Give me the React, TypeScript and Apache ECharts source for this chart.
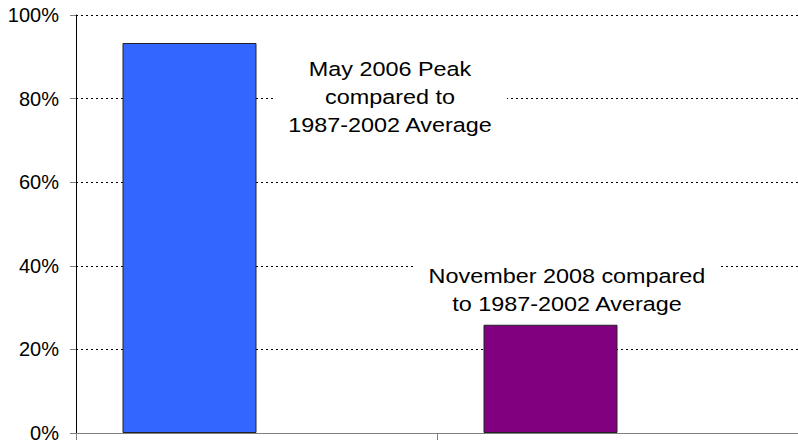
import React, { useEffect, useRef } from "react";
import * as echarts from "echarts";

const categories = ["May 2006 Peak", "November 2008"];
const values = [93.3, 25.9];
const barColors = ["#3366FF", "#800080"];
const annotationPeak = "May 2006 Peak\ncompared to\n1987-2002 Average";
const annotationNov = "November 2008 compared\nto 1987-2002 Average";

export default function App() {
  const ref = useRef<HTMLDivElement>(null);
  useEffect(() => {
    if (!ref.current) return;
    const chart = echarts.init(ref.current, null, { renderer: "svg" });
    const font = "'Liberation Sans', Arial, sans-serif";
    const textStyle = (t: string, x: number, y: number) => ({
      type: "text",
      x,
      y,
      scaleX: 1.2,
      z: 100,
      style: {
        text: t,
        fontFamily: font,
        fontSize: 19.5,
        lineHeight: 28,
        fill: "#000",
        align: "center",
        verticalAlign: "middle",
        backgroundColor: "#fff",
        padding: [2, 12, 2, 12],
      },
    });
    chart.setOption({
      animation: false,
      backgroundColor: "#fff",
      grid: { left: 76, right: 0, top: 15, bottom: 11, containLabel: false },
      xAxis: {
        type: "category",
        data: categories,
        axisLine: { show: true, lineStyle: { color: "#808080", width: 1 } },
        axisTick: { show: true, alignWithLabel: false, length: 7, lineStyle: { color: "#808080" } },
        axisLabel: { show: false },
        splitLine: { show: false },
      },
      yAxis: {
        type: "value",
        min: 0,
        max: 100,
        interval: 20,
        axisLine: { show: true, lineStyle: { color: "#000", width: 1 } },
        axisTick: { show: true, length: 6, lineStyle: { color: "#808080" } },
        axisLabel: {
          formatter: "{value}%",
          fontFamily: font,
          fontSize: 20,
          color: "#000",
          margin: 17,
        },
        splitLine: { show: true, lineStyle: { color: "#000", type: [2, 3], width: 1 } },
      },
      series: [
        {
          type: "bar",
          barWidth: 134,
          barGap: "0%",
          data: values.map((v, i) => ({
            value: v,
            itemStyle: { color: barColors[i], borderColor: "#222", borderWidth: 1 },
          })),
        },
        {
          type: "bar",
          barWidth: 134,
          barGap: "0%",
          data: ["-", "-"],
        },
      ],
      graphic: [textStyle(annotationPeak, 390, 98), textStyle(annotationNov, 567, 291)],
    });
    return () => chart.dispose();
  }, []);
  return (
    <div
      ref={ref}
      style={{ position: "fixed", left: 0, top: 0, width: 798, height: 444 }}
    />
  );
}
